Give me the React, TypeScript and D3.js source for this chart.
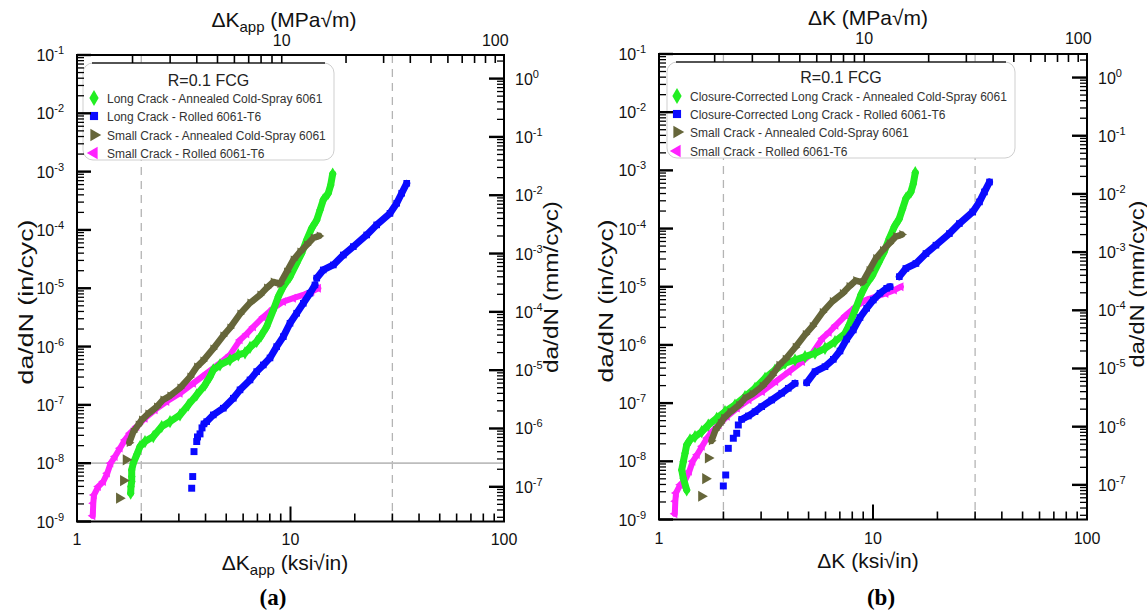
import React from "react";
import * as d3 from "d3";

type Pt = [number, number]; // [ΔK (ksi√in), da/dN (in/cyc)]

// ---------------- DATA ----------------
// Small crack – Rolled 6061-T6 (magenta, same in both panels)
const smallCrackRolled: Pt[] = [
  [1.185, 1.25e-9], [1.192, 2.06e-9], [1.201, 2.86e-9], [1.258, 3.97e-9], [1.328, 4.84e-9],
  [1.386, 6.74e-9], [1.438, 1.0e-8], [1.507, 1.3e-8], [1.59, 1.81e-8], [1.678, 2.51e-8],
  [1.771, 3.27e-8], [1.904, 4.25e-8], [2.082, 5.91e-8], [2.319, 8.2e-8], [2.631, 1.14e-7],
  [3.037, 1.58e-7], [3.505, 2.35e-7], [4.051, 3.49e-7], [4.675, 5.19e-7], [5.207, 7.19e-7],
  [5.801, 1.3e-6], [6.234, 1.65e-6], [6.696, 2.17e-6], [7.458, 3.22e-6], [8.309, 4.54e-6],
  [9.253, 5.9e-6], [10.31, 6.75e-6], [11.48, 7.67e-6], [12.57, 8.75e-6], [13.5, 1.0e-5],
];

// Small crack – Annealed Cold-Spray 6061 (olive, same in both panels)
const smallCrackCSIsolated: Pt[] = [[1.578, 2.51e-9], [1.648, 5.04e-9], [1.696, 1.14e-8]];
const smallCrackCS: Pt[] = [
  [1.758, 2.25e-8], [1.835, 3.44e-8], [1.937, 4.54e-8], [2.009, 5.53e-8], [2.15, 7.0e-8],
  [2.362, 9.23e-8], [2.528, 1.22e-7], [2.727, 1.43e-7], [3.037, 1.95e-7], [3.383, 3.02e-7],
  [3.637, 4.48e-7], [3.892, 5.68e-7], [4.335, 9.12e-7], [4.829, 1.52e-6], [5.207, 2.09e-6],
  [5.801, 3.63e-6], [6.461, 5.6e-6], [7.197, 7.67e-6], [7.735, 1.01e-5], [8.309, 1.28e-5],
  [8.929, 1.19e-5], [9.598, 1.91e-5], [10.31, 3.06e-5], [11.08, 4.2e-5], [11.91, 5.53e-5],
  [12.79, 7.29e-5], [13.64, 7.89e-5],
];

// Long crack – Annealed Cold-Spray 6061 (green, panel a)
const longCrackCS: Pt[] = [
  [1.784, 3.06e-9], [1.79, 3.97e-9], [1.804, 4.84e-9], [1.804, 5.9e-9], [1.804, 7.67e-9],
  [1.835, 1.0e-8], [1.904, 1.39e-8], [1.973, 1.93e-8], [2.082, 2.35e-8], [2.277, 2.86e-8],
  [2.493, 4.25e-8], [2.727, 5.16e-8], [3.037, 6.73e-8], [3.322, 1.0e-7], [3.637, 1.48e-7],
  [3.977, 2.2e-7], [4.198, 3.05e-7], [4.349, 3.98e-7], [4.675, 4.84e-7], [5.207, 5.9e-7],
  [5.695, 7.19e-7], [6.122, 7.78e-7], [6.461, 9.66e-7], [6.945, 1.22e-6], [7.275, 1.52e-6],
  [7.735, 2.2e-6], [8.309, 4.25e-6], [8.767, 7.18e-6], [9.253, 1.07e-5], [9.947, 1.58e-5],
  [10.69, 2.69e-5], [11.28, 3.98e-5], [11.91, 6.73e-5], [12.57, 1.07e-4], [13.27, 1.48e-4],
  [13.75, 2.2e-4], [14.24, 3.27e-4], [15.03, 4.26e-4], [15.43, 5.9e-4], [15.76, 9.12e-4],
];

// Long crack – Rolled 6061-T6 (blue, panel a)
const longCrackRolledIsolated: Pt[] = [
  [3.445, 3.72e-9], [3.483, 5.9e-9], [3.532, 1.58e-8], [3.637, 2.35e-8], [3.668, 2.82e-8],
  [3.769, 3.18e-8], [3.851, 4.03e-8],
];
const longCrackRolledLow: Pt[] = [
  [3.934, 4.72e-8], [4.051, 5.16e-8], [4.349, 6.73e-8], [4.845, 8.77e-8], [5.396, 1.3e-7],
  [5.801, 1.81e-7], [6.461, 2.68e-7], [6.945, 3.72e-7], [7.458, 4.84e-7], [8.017, 6.38e-7],
  [8.616, 9.98e-7], [9.253, 1.48e-6], [9.947, 2.51e-6], [10.69, 3.73e-6], [11.48, 5.53e-6],
  [12.34, 8.22e-6], [13.02, 1.14e-5],
];
const longCrackRolledHigh: Pt[] = [
  [13.27, 1.49e-5], [14.24, 2.06e-5], [15.87, 2.51e-5], [17.68, 3.72e-5], [19.69, 5.18e-5],
  [22.75, 8.2e-5], [25.33, 1.22e-4], [29.24, 1.93e-4], [31.44, 2.87e-4], [33.18, 4.26e-4],
  [35.03, 6.31e-4],
];

// Closure-corrected long crack – Annealed Cold-Spray 6061 (green, panel b, low-ΔK part)
const ccLongCrackCSLow: Pt[] = [
  [1.347, 3.21e-9], [1.299, 5.11e-9], [1.277, 7.1e-9], [1.299, 9.86e-9], [1.323, 1.37e-8],
  [1.347, 1.91e-8], [1.396, 2.33e-8], [1.473, 2.65e-8], [1.583, 3.23e-8], [1.7, 4.21e-8],
  [1.861, 5.48e-8], [2.034, 7.13e-8], [2.265, 9.29e-8], [2.523, 1.29e-7], [2.81, 1.8e-7],
  [3.129, 2.67e-7], [3.484, 3.71e-7], [3.88, 4.84e-7], [4.321, 5.51e-7], [4.811, 6.28e-7],
  [5.358, 7.19e-7], [5.967, 8.75e-7], [6.644, 1.14e-6], [7.399, 1.58e-6],
];

// Closure-corrected long crack – Rolled 6061-T6 (blue, panel b, low-ΔK part)
const ccLongCrackRolledIsolated: Pt[] = [
  [1.998, 3.77e-9], [2.05, 5.82e-9], [2.108, 1.67e-8], [2.225, 2.49e-8], [2.307, 3.03e-8],
  [2.348, 4.21e-8],
];
const ccLongCrackRolledLow: Pt[] = [
  [2.434, 5.27e-8], [2.614, 6.01e-8], [2.81, 7.13e-8], [3.019, 8.69e-8], [3.363, 1.13e-7],
  [3.745, 1.48e-7], [4.02, 1.8e-7], [4.321, 2.19e-7],
];
const ccLongCrackRolledMid: Pt[] = [
  [4.9, 2.24e-7], [5.358, 3.47e-7], [5.967, 4.23e-7], [6.525, 5.66e-7], [7.011, 7.87e-7],
  [7.537, 1.26e-6], [8.09, 1.81e-6], [8.695, 2.96e-6], [9.346, 4.27e-6], [10.03, 5.92e-6],
  [10.78, 7.73e-6], [11.59, 9.41e-6], [12.01, 1.0e-5],
];

const ccLongCrackCS: Pt[] = [...ccLongCrackCSLow, ...longCrackCS.filter((p) => p[0] >= 7.7)];

// Axis tick labels
const inExponents = [-1, -2, -3, -4, -5, -6, -7, -8, -9];
const mmExponents = [0, -1, -2, -3, -4, -5, -6, -7];
const ksiLabels = [1, 10, 100];
const mpaLabels = [10, 100];
const dashedK = [2, 30];

const legendA = [
  "Long Crack - Annealed Cold-Spray 6061",
  "Long Crack - Rolled 6061-T6",
  "Small Crack - Annealed Cold-Spray 6061",
  "Small Crack - Rolled 6061-T6",
];
const legendB = [
  "Closure-Corrected Long Crack - Annealed Cold-Spray 6061",
  "Closure-Corrected Long Crack - Rolled 6061-T6",
  "Small Crack - Annealed Cold-Spray 6061",
  "Small Crack - Rolled 6061-T6",
];

// ---------------- STYLE ----------------
const FONT = "'Liberation Sans', Arial, Helvetica, sans-serif";
const GREEN = "#22ee22";
const BLUE = "#0a0aff";
const OLIVE = "#66663a";
const MAGENTA = "#ff22ff";
const IN_TO_MM = 25.4;
const MPA_PER_KSI = 1.0988;

type Kind = "diamond" | "square" | "triR" | "triL";

function symbolPath(kind: Kind, scale = 1): string {
  if (kind === "diamond") return d3.symbol(d3.symbolDiamond, 50 * scale)() as string;
  if (kind === "square") return d3.symbol(d3.symbolSquare, 44 * scale)() as string;
  return d3.symbol(d3.symbolTriangle, 34 * scale)() as string;
}
function symbolRot(kind: Kind): number {
  return kind === "triR" ? 90 : kind === "triL" ? -90 : 0;
}

interface SeriesDef {
  segments: Pt[][];
  isolated: Pt[];
  color: string;
  kind: Kind;
  width: number;
}

interface Frame {
  x0: number; x1: number; y0: number; y1: number;
}

function Sup({ base, exp, x, y, anchor }: { base: string; exp: string; x: number; y: number; anchor: string }) {
  return (
    <text x={x} y={y} textAnchor={anchor} fontSize={16} fontFamily={FONT} fill="#111">
      {base}
      <tspan dy={-7} fontSize={11}>{exp}</tspan>
    </text>
  );
}

function Panel(props: {
  f: Frame;
  series: SeriesDef[];
  legend: string[];
  legendBox: { x: number; y: number; w: number; h: number; titleY: number; rows: number[]; mx: number; tx: number };
  topTitle: React.ReactNode;
  bottomTitle: React.ReactNode;
  topTitlePos: [number, number];
  bottomTitlePos: [number, number];
  topLabelY: number;
  bottomLabelY: number;
  leftTitle: [number, number, number];
  rightTitle: [number, number, number];
  letter: string;
  letterPos: [number, number];
  grayLine: boolean;
}) {
  const { f } = props;
  const x = d3.scaleLog().domain([1, 100]).range([f.x0, f.x1]);
  const xM = d3.scaleLog().domain([MPA_PER_KSI, 100 * MPA_PER_KSI]).range([f.x0, f.x1]);
  const y = d3.scaleLog().domain([1e-9, 1e-1]).range([f.y1, f.y0]);
  const yM = d3.scaleLog().domain([1e-9 * IN_TO_MM, 1e-1 * IN_TO_MM]).range([f.y1, f.y0]);
  const line = d3.line<Pt>().x((d) => x(d[0])).y((d) => y(d[1]));
  const isDecade = (v: number) => Math.abs(Math.log10(v) - Math.round(Math.log10(v))) < 1e-6;

  const lb = props.legendBox;
  const legendKinds: { kind: Kind; color: string }[] = [
    { kind: "diamond", color: GREEN },
    { kind: "square", color: BLUE },
    { kind: "triR", color: OLIVE },
    { kind: "triL", color: MAGENTA },
  ];

  return (
    <g>
      {/* reference lines */}
      {dashedK.map((k) => (
        <line key={k} x1={x(k)} x2={x(k)} y1={f.y0} y2={f.y1} stroke="#b4b4b4" strokeWidth={1.3} strokeDasharray="8,6" />
      ))}
      {props.grayLine && (
        <line x1={f.x0} x2={f.x1} y1={y(1e-8)} y2={y(1e-8)} stroke="#bdbdbd" strokeWidth={1.8} />
      )}

      {/* legend */}
      <rect x={lb.x} y={lb.y} width={lb.w} height={lb.h} rx={10} fill="#fff" stroke="#cfcfcf" strokeWidth={1} />
      <line x1={lb.x + 9} x2={lb.x + lb.w - 9} y1={lb.y} y2={lb.y} stroke="#222" strokeWidth={1.4} />
      <text x={lb.x + lb.w / 2} y={lb.titleY} textAnchor="middle" fontSize={16} fontFamily={FONT} fill="#222">
        R=0.1 FCG
      </text>
      {props.legend.map((t, i) => (
        <g key={t + i}>
          <path
            d={symbolPath(legendKinds[i].kind, legendKinds[i].kind.startsWith("tri") ? 2.0 : 1.5)}
            transform={`translate(${lb.mx},${lb.rows[i]}) rotate(${symbolRot(legendKinds[i].kind)})`}
            fill={legendKinds[i].color}
          />
          <text x={lb.tx} y={lb.rows[i] + 4.5} fontSize={12} fontFamily={FONT} fill="#333">
            {t}
          </text>
        </g>
      ))}

      {/* data */}
      {props.series.map((s, si) => (
        <g key={si}>
          {s.segments.map((seg, i) => (
            <path key={i} d={line(seg) as string} fill="none" stroke={s.color} strokeWidth={s.width}
              strokeLinejoin="round" strokeLinecap="round" />
          ))}
          {s.segments.flat().map((p, i) => (
            <path key={"m" + i} d={symbolPath(s.kind)}
              transform={`translate(${x(p[0])},${y(p[1])}) rotate(${symbolRot(s.kind)})`} fill={s.color} />
          ))}
          {s.isolated.map((p, i) => (
            <path key={"i" + i} d={symbolPath(s.kind, s.kind.startsWith("tri") ? 1.6 : 1.1)}
              transform={`translate(${x(p[0])},${y(p[1])}) rotate(${symbolRot(s.kind)})`} fill={s.color} />
          ))}
        </g>
      ))}

      {/* frame */}
      <rect x={f.x0} y={f.y0} width={f.x1 - f.x0} height={f.y1 - f.y0} fill="none" stroke="#000" strokeWidth={2} />

      {/* bottom ticks (ksi√in) */}
      {x.ticks().map((v) => (
        <line key={"b" + v} x1={x(v)} x2={x(v)} y1={f.y1} y2={f.y1 - (v === 10 ? 15 : 8)} stroke="#000"
          strokeWidth={v === 10 ? 2 : 1.6} />
      ))}
      {/* top ticks (MPa√m) */}
      {xM.ticks().map((v) => (
        <line key={"t" + v} x1={xM(v)} x2={xM(v)} y1={f.y0} y2={f.y0 + 8} stroke="#000" strokeWidth={1.6} />
      ))}
      {/* left ticks (in/cyc) */}
      {y.ticks().map((v, i) => (
        <line key={"l" + i} x1={f.x0} x2={f.x0 + (isDecade(v) ? 14 : 7)} y1={y(v)} y2={y(v)} stroke="#000"
          strokeWidth={isDecade(v) ? 2.4 : 1.3} />
      ))}
      {/* right ticks (mm/cyc) */}
      {yM.ticks().map((v, i) => (
        <line key={"r" + i} x1={f.x1} x2={f.x1 - (isDecade(v) ? 15 : 7)} y1={yM(v)} y2={yM(v)} stroke="#000"
          strokeWidth={isDecade(v) ? 2.4 : 1.3} />
      ))}

      {/* tick labels */}
      {inExponents.map((e) => (
        <Sup key={"il" + e} base="10" exp={String(e)} x={f.x0 - 13} y={y(Math.pow(10, e)) + 6} anchor="end" />
      ))}
      {mmExponents.map((e) => (
        <Sup key={"ml" + e} base="10" exp={String(e)} x={f.x1 + 11} y={yM(Math.pow(10, e)) + 6} anchor="start" />
      ))}
      {ksiLabels.map((v) => (
        <text key={"kl" + v} x={x(v)} y={props.bottomLabelY} textAnchor="middle" fontSize={16} fontFamily={FONT} fill="#111">
          {v}
        </text>
      ))}
      {mpaLabels.map((v) => (
        <text key={"pl" + v} x={xM(v)} y={props.topLabelY} textAnchor="middle" fontSize={16} fontFamily={FONT} fill="#111">
          {v}
        </text>
      ))}

      {/* titles */}
      <text x={props.topTitlePos[0]} y={props.topTitlePos[1]} textAnchor="middle" fontSize={21} fontFamily={FONT} fill="#111">
        {props.topTitle}
      </text>
      <text x={props.bottomTitlePos[0]} y={props.bottomTitlePos[1]} textAnchor="middle" fontSize={21} fontFamily={FONT} fill="#111">
        {props.bottomTitle}
      </text>
      <text transform={`translate(${props.leftTitle[0]},${props.leftTitle[1]}) rotate(-90)`} textAnchor="middle"
        dominantBaseline="central" fontSize={21} fontFamily={FONT} fill="#111" textLength={props.leftTitle[2]}
        lengthAdjust="spacingAndGlyphs">
        da/dN (in/cyc)
      </text>
      <text transform={`translate(${props.rightTitle[0]},${props.rightTitle[1]}) rotate(-90)`} textAnchor="middle"
        dominantBaseline="central" fontSize={21} fontFamily={FONT} fill="#111" textLength={props.rightTitle[2]}
        lengthAdjust="spacingAndGlyphs">
        da/dN (mm/cyc)
      </text>
      <text x={props.letterPos[0]} y={props.letterPos[1]} textAnchor="middle" fontSize={23} fontWeight="bold"
        fontFamily="'Liberation Serif', 'Times New Roman', serif" fill="#000">
        {props.letter}
      </text>
    </g>
  );
}

export default function App() {
  const seriesA: SeriesDef[] = [
    { segments: [smallCrackRolled], isolated: [], color: MAGENTA, kind: "triL", width: 6 },
    { segments: [longCrackCS], isolated: [], color: GREEN, kind: "diamond", width: 7 },
    { segments: [smallCrackCS], isolated: smallCrackCSIsolated, color: OLIVE, kind: "triR", width: 6.5 },
    { segments: [longCrackRolledLow, longCrackRolledHigh], isolated: longCrackRolledIsolated, color: BLUE, kind: "square", width: 7 },
  ];
  const seriesB: SeriesDef[] = [
    { segments: [smallCrackRolled], isolated: [], color: MAGENTA, kind: "triL", width: 6 },
    { segments: [ccLongCrackCS], isolated: [], color: GREEN, kind: "diamond", width: 7 },
    { segments: [smallCrackCS], isolated: smallCrackCSIsolated, color: OLIVE, kind: "triR", width: 6.5 },
    { segments: [ccLongCrackRolledLow, ccLongCrackRolledMid, longCrackRolledHigh], isolated: ccLongCrackRolledIsolated, color: BLUE, kind: "square", width: 7 },
  ];

  return (
    <svg width={1147} height={610} style={{ position: "absolute", left: 0, top: 0, background: "#fff" }}>
      <rect x={0} y={0} width={1147} height={610} fill="#fff" />
      <Panel
        f={{ x0: 77, x1: 504, y0: 55, y1: 521.5 }}
        series={seriesA}
        legend={legendA}
        legendBox={{ x: 83, y: 63, w: 251, h: 97, titleY: 86, rows: [98, 116, 135, 153], mx: 94, tx: 107 }}
        topTitle={<>ΔK<tspan dy={5} fontSize={15}>app</tspan><tspan dy={-5}> (MPa√m)</tspan></>}
        bottomTitle={<>ΔK<tspan dy={5} fontSize={15}>app</tspan><tspan dy={-5}> (ksi√in)</tspan></>}
        topTitlePos={[284, 27]}
        bottomTitlePos={[285, 570]}
        topLabelY={46}
        bottomLabelY={545}
        leftTitle={[25, 302, 165]}
        rightTitle={[550, 287, 172]}
        letter="(a)"
        letterPos={[273, 605]}
        grayLine={true}
      />
      <Panel
        f={{ x0: 659, x1: 1087, y0: 54, y1: 519.5 }}
        series={seriesB}
        legend={legendB}
        legendBox={{ x: 667, y: 62, w: 348, h: 96, titleY: 83, rows: [96, 114, 132, 151], mx: 677, tx: 690 }}
        topTitle={<>ΔK (MPa√m)</>}
        bottomTitle={<>ΔK (ksi√in)</>}
        topTitlePos={[868, 25]}
        bottomTitlePos={[868, 568]}
        topLabelY={44}
        bottomLabelY={544}
        leftTitle={[605, 301, 163]}
        rightTitle={[1136, 284, 167]}
        letter="(b)"
        letterPos={[881, 605]}
        grayLine={false}
      />
    </svg>
  );
}
